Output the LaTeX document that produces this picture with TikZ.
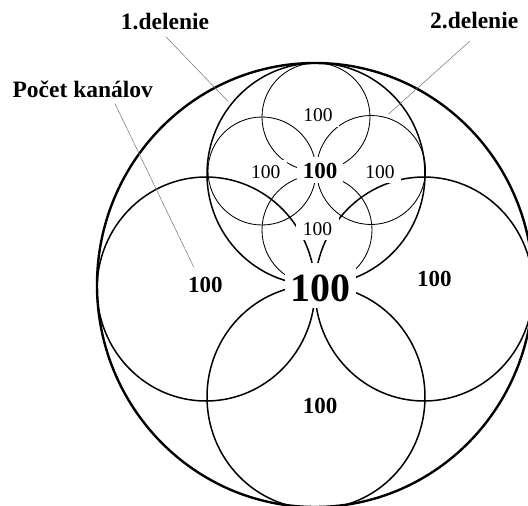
\documentclass[tikz,border=0pt]{standalone}
\usepackage{fontspec}
\setmainfont{Liberation Serif}
\begin{document}
\begin{tikzpicture}[x=1pt,y=-1pt,
  bigc/.style={line width=2.4pt},
  medc/.style={line width=1.5pt},
  smlc/.style={line width=0.85pt},
  lead/.style={draw=black!55, line width=0.5pt},
  title/.style={font=\fontsize{23.5}{26}\selectfont\bfseries, anchor=base, inner sep=2pt},
  blab/.style={font=\fontsize{23}{26}\selectfont\bfseries, anchor=base, fill=white, inner xsep=6pt, inner ysep=4pt, text height=17pt, text depth=1pt},
  rlab/.style={font=\fontsize{19.5}{22}\selectfont, anchor=base, fill=white, inner xsep=6.5pt, inner ysep=4pt, text height=14pt, text depth=1pt},
  clab/.style={font=\fontsize{40}{44}\selectfont\bfseries, anchor=base, fill=white, inner xsep=5.5pt, inner ysep=2pt, text height=36.7pt, text depth=4.3pt}
]
\useasboundingbox (0,0) rectangle (528,506);
\clip (0,0) rectangle (528,506);
% big circle
\draw[bigc] (315,285) ellipse [x radius=218pt, y radius=222pt];
% first division
\draw[medc] (316,174) ellipse [x radius=109pt, y radius=111pt];
\draw[medc] (206,289) ellipse [x radius=109pt, y radius=112pt];
\draw[medc] (424,289) ellipse [x radius=109pt, y radius=112pt];
\draw[medc] (316,397) ellipse [x radius=109pt, y radius=112pt];
% second division
\draw[smlc] (316,117) circle [radius=54pt];
\draw[smlc] (262,171) circle [radius=54pt];
\draw[smlc] (371,170) circle [radius=54.5pt];
\draw[smlc] (317,230) circle [radius=55pt];
% titles
\node[title] (d1) at (165,29.5) {1.delenie};
\node[title] (d2) at (474.2,28.5) {2.delenie};
\node[title] (pk) at (82.8,97.7) {Počet kanálov};
% leader end points
\coordinate (e1) at (228.3,101.7);
\coordinate (e2) at (388.3,114.3);
\coordinate (e3) at (193.6,266.7);
\draw[lead] ([xshift=0.7pt,yshift=-4.5pt]d1.south) -- (e1);
\draw[lead] ([xshift=-4.5pt,yshift=-10.2pt]d2.south) -- (e2);
\draw[lead] ([xshift=32.2pt,yshift=-3.6pt]pk.south) -- (e3);
% labels
\node[rlab] (s1) at (318,121.7) {100};
\node[rlab] (s2) at (265.8,178.3) {100};
\node[rlab] (s3) at (380,178.3) {100};
\node[rlab] (s4) at (317.5,235) {100};
\node[blab] (m0) at (320,178.3) {100};
\node[blab] (m2) at (205.3,292.7) {100};
\node[blab] (m3) at (434.3,286) {100};
\node[blab] (m4) at (320,413.3) {100};
\node[clab] (c0) at (320,301.7) {100};
\end{tikzpicture}
\end{document}
